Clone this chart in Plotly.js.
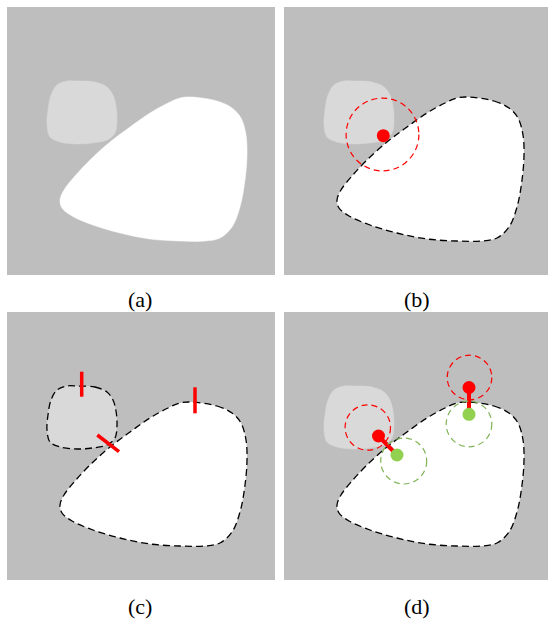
<!DOCTYPE html>
<html>
<head>
<meta charset="utf-8">
<script src="https://cdn.plot.ly/plotly-3.0.1.min.js"></script>
<style>html,body{margin:0;padding:0;background:#fff;}#chart{width:548px;height:619px;}</style>
</head>
<body>
<div id="chart"></div>
<script>
// Panel-local coordinates (pixels inside each square panel, y downward)
const smallBlobX = [70, 88, 100, 106, 109, 110, 108, 100, 85, 70, 53, 43, 40, 41, 44, 50, 60, 70];
const smallBlobY = [74, 75, 80, 88, 99, 113, 126, 133, 136, 137, 135, 130, 118, 103, 88, 78, 74, 74];

const bigBlobX = [183, 210, 225, 234, 239, 240, 238, 233, 225, 213, 198, 173, 143, 113, 86, 65, 55, 53, 57, 68, 83, 103, 123, 143, 161, 173, 183];
const bigBlobY = [90, 94, 101, 111, 128, 148, 173, 200, 220, 231, 234, 234, 232, 226, 218, 209, 201, 193, 183, 169, 153, 135, 120, 106, 96, 91, 90];

// panel (b)
const bCircX = [98.5], bCircY = [127.5], bCircR = [36.4];
const bDotX = [99.3], bDotY = [128.7];

// panel (c) red normal ticks
const cTickX0 = [74.7, 188, 90.3], cTickY0 = [59.7, 75.3, 123];
const cTickX1 = [74.7, 188, 112], cTickY1 = [84.7, 101.3, 139.7];

// panel (d)
const dRedX = [94.5, 185], dRedY = [124, 75.5];
const dGreenX = [113, 185], dGreenY = [143, 102.3];
const dRedCircX = [83.8, 185.5], dRedCircY = [115.5, 65.5], dRedCircR = [22.7, 22.3];
const dGreenCircX = [119.7, 185], dGreenCircY = [149, 112], dGreenCircR = [23, 22.8];

const labels = ['(a)', '(b)', '(c)', '(d)'];

const GRAY = '#bebebe', LIGHT = '#d9d9d9', RED = '#ff0000', GREEN = '#92d050', GREENLINE = '#7fb356';
const DASH = '7px,4px';
const CDASH = '6px,4px';

const traces = [];
const axes = [['x', 'y'], ['x2', 'y2'], ['x3', 'y3'], ['x4', 'y4']];

function blob(xs, ys, ax, fill, outline) {
  traces.push({
    type: 'scatter', mode: 'lines', x: xs, y: ys, xaxis: ax[0], yaxis: ax[1],
    fill: 'toself', fillcolor: fill,
    line: outline ? {color: '#000', width: 1.3, shape: 'spline', smoothing: 1, dash: DASH}
                  : {color: fill, width: 0.5, shape: 'spline', smoothing: 1},
    hoverinfo: 'skip', showlegend: false
  });
}

// (a)
blob(smallBlobX, smallBlobY, axes[0], LIGHT, false);
blob(bigBlobX, bigBlobY, axes[0], '#ffffff', false);
// (b)
blob(smallBlobX, smallBlobY, axes[1], LIGHT, false);
blob(bigBlobX, bigBlobY, axes[1], '#ffffff', true);
traces.push({type: 'scatter', mode: 'markers', x: bDotX, y: bDotY, xaxis: 'x2', yaxis: 'y2',
  marker: {color: RED, size: 13}, hoverinfo: 'skip', showlegend: false});
// (c)
blob(smallBlobX, smallBlobY, axes[2], LIGHT, true);
blob(bigBlobX, bigBlobY, axes[2], '#ffffff', true);
for (let i = 0; i < cTickX0.length; i++) {
  traces.push({type: 'scatter', mode: 'lines', x: [cTickX0[i], cTickX1[i]], y: [cTickY0[i], cTickY1[i]],
    xaxis: 'x3', yaxis: 'y3', line: {color: RED, width: 3.5}, hoverinfo: 'skip', showlegend: false});
}
// (d)
blob(smallBlobX, smallBlobY, axes[3], LIGHT, false);
blob(bigBlobX, bigBlobY, axes[3], '#ffffff', true);
for (let i = 0; i < dRedX.length; i++) {
  traces.push({type: 'scatter', mode: 'lines', x: [dRedX[i], dGreenX[i]], y: [dRedY[i], dGreenY[i]],
    xaxis: 'x4', yaxis: 'y4', line: {color: RED, width: 4}, hoverinfo: 'skip', showlegend: false});
}
traces.push({type: 'scatter', mode: 'markers', x: dRedX, y: dRedY, xaxis: 'x4', yaxis: 'y4',
  marker: {color: RED, size: 13}, hoverinfo: 'skip', showlegend: false});
traces.push({type: 'scatter', mode: 'markers', x: dGreenX, y: dGreenY, xaxis: 'x4', yaxis: 'y4',
  marker: {color: GREEN, size: 13}, hoverinfo: 'skip', showlegend: false});

const shapes = [];
function circ(cx, cy, r, xr, yr, color) {
  shapes.push({type: 'circle', xref: xr, yref: yr, x0: cx - r, x1: cx + r, y0: cy - r, y1: cy + r,
    line: {color: color, width: 1.2, dash: CDASH}, fillcolor: 'rgba(0,0,0,0)', layer: 'above'});
}
bCircX.forEach((c, i) => circ(c, bCircY[i], bCircR[i], 'x2', 'y2', RED));
dRedCircX.forEach((c, i) => circ(c, dRedCircY[i], dRedCircR[i], 'x4', 'y4', RED));
dGreenCircX.forEach((c, i) => circ(c, dGreenCircY[i], dGreenCircR[i], 'x4', 'y4', GREENLINE));

const W = 548, H = 619;
function xa(l, r, range) {
  return {domain: [l / W, r / W], range: range, showgrid: false, zeroline: false, showticklabels: false,
    ticks: '', showline: false, fixedrange: true};
}
function ya(t, b, range) {
  return {domain: [1 - b / H, 1 - t / H], range: range, showgrid: false, zeroline: false, showticklabels: false,
    ticks: '', showline: false, fixedrange: true};
}

const labelPos = [[140, 299], [417, 299], [140, 606], [417, 606]];
const annotations = labels.map((t, i) => ({
  text: t, xref: 'paper', yref: 'paper', x: labelPos[i][0] / W, y: 1 - labelPos[i][1] / H,
  xanchor: 'center', yanchor: 'middle', showarrow: false,
  font: {family: 'Liberation Serif, Times New Roman, serif', size: 22, color: '#000'}
}));

const layout = {
  width: W, height: H, margin: {l: 0, r: 0, t: 0, b: 0},
  paper_bgcolor: '#ffffff', plot_bgcolor: GRAY, showlegend: false,
  xaxis: xa(7, 275, [0, 268]), yaxis: ya(7, 275, [268, 0]),
  xaxis2: xa(284, 548, [0, 264]), yaxis2: ya(7, 275, [268, 0]),
  xaxis3: xa(7, 275, [0, 268]), yaxis3: ya(312, 580, [268, 0]),
  xaxis4: xa(284, 548, [0, 264]), yaxis4: ya(312, 580, [268, 0]),
  shapes: shapes, annotations: annotations
};

Plotly.newPlot('chart', traces, layout, {staticPlot: true, displayModeBar: false});
</script>
</body>
</html>
